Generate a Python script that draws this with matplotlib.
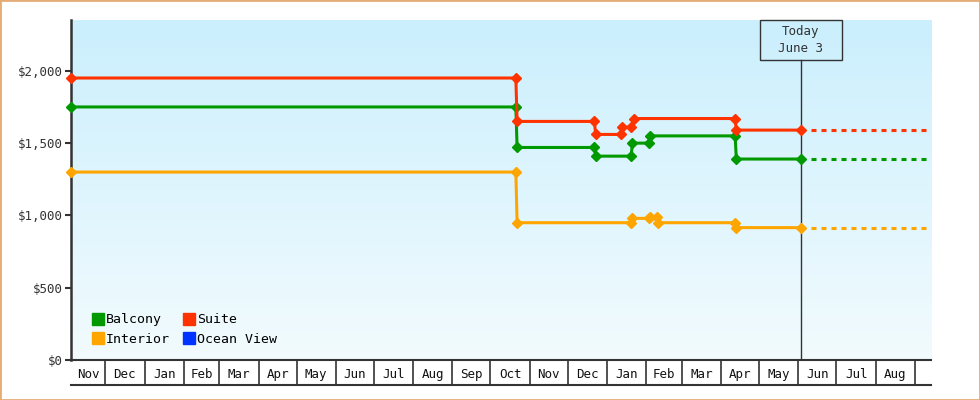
import matplotlib
matplotlib.use('Agg')
import matplotlib.pyplot as plt
import matplotlib.dates as mdates
import numpy as np
import pandas as pd
from matplotlib.lines import Line2D
from matplotlib.patches import Rectangle
from matplotlib.colors import LinearSegmentedColormap
from matplotlib.transforms import blended_transform_factory

plt.rcParams['font.family'] = ['DejaVu Sans Mono']
plt.rcParams['lines.scale_dashes'] = False

# price history, one point per observation
balcony_dates = ['2021-11-04', '2022-10-21', '2022-10-22', '2022-12-22', '2022-12-23',
                 '2023-01-20', '2023-01-21', '2023-02-03', '2023-02-04', '2023-04-12',
                 '2023-04-13', '2023-06-03']
balcony_prices = [1749, 1749, 1469, 1469, 1409, 1409, 1499, 1499, 1549, 1549, 1389, 1389]

suite_dates = ['2021-11-04', '2022-10-21', '2022-10-22', '2022-12-22', '2022-12-23',
               '2023-01-12', '2023-01-13', '2023-01-20', '2023-01-22', '2023-04-12',
               '2023-04-13', '2023-06-03']
suite_prices = [1949, 1949, 1649, 1649, 1559, 1559, 1609, 1609, 1669, 1669, 1589, 1589]

interior_dates = ['2021-11-04', '2022-10-21', '2022-10-22', '2023-01-20', '2023-01-21',
                  '2023-02-03', '2023-02-04', '2023-02-09', '2023-02-10', '2023-04-12',
                  '2023-04-13', '2023-06-03']
interior_prices = [1299, 1299, 949, 949, 979, 979, 989, 989, 949, 949, 915, 915]

series_names = ['Balcony', 'Suite', 'Interior', 'Ocean View']
series_colors = ['#009900', '#ff3300', '#ffa500', '#0033ff']

today = '2023-06-03'
today_label = 'Today\nJune 3'
x_start, x_end = '2021-11-04', '2023-09-13 14:00'
month_labels = ['Nov', 'Dec', 'Jan', 'Feb', 'Mar', 'Apr', 'May', 'Jun', 'Jul', 'Aug', 'Sep',
                'Oct', 'Nov', 'Dec', 'Jan', 'Feb', 'Mar', 'Apr', 'May', 'Jun', 'Jul', 'Aug']
y_ticks = [0, 500, 1000, 1500, 2000]
y_max = 2350


def num(d):
    return mdates.date2num(pd.to_datetime(d))


dark = '#333333'
x0, x1, t = num(x_start), num(x_end), num(today)

fig = plt.figure(figsize=(9.8, 4.0), dpi=100)
rect = [71 / 980, 40 / 400, 860 / 980, 340 / 400]

# gradient background behind the plot
bg = fig.add_axes(rect, zorder=0)
cmap = LinearSegmentedColormap.from_list('bg', ['#f2fbfe', '#cbeffd'])
bg.imshow(np.linspace(0, 1, 256).reshape(-1, 1), cmap=cmap, aspect='auto',
          origin='lower', extent=[0, 1, 0, 1])
bg.axis('off')

ax = fig.add_axes(rect, zorder=1)
ax.set_facecolor('none')

data = [(balcony_dates, balcony_prices), (suite_dates, suite_prices),
        (interior_dates, interior_prices)]
for (dates, prices), c in zip(data, series_colors):
    xs = [num(d) for d in dates]
    ax.plot(xs, prices, color=c, lw=2.2, marker='D', ms=5.5, clip_on=False, zorder=3)
    # projection after today
    ax.plot([t + 4, x1], [prices[-1], prices[-1]], color=c, lw=2.2,
            linestyle=(3.6, (3.6, 3.6)), clip_on=False, zorder=3)

ax.set_xlim(x0, x1)
ax.set_ylim(0, y_max)

# y axis
ax.set_yticks(y_ticks)
ax.set_yticklabels(['${:,}'.format(v) for v in y_ticks])
ax.tick_params(axis='y', direction='out', length=4.5, width=1.5, color=dark,
               labelsize=9, labelcolor=dark, pad=1.5)
for s in ['top', 'right']:
    ax.spines[s].set_visible(False)
ax.spines['left'].set_linewidth(1.8)
ax.spines['left'].set_color(dark)
ax.spines['bottom'].set_linewidth(1.5)
ax.spines['bottom'].set_color(dark)

# month cells under the axis
month_starts = pd.date_range('2021-11-01', '2023-10-01', freq='MS')
seps = [num(d) for d in month_starts if x0 < num(d) < x1]
centers = []
for a, b in zip(month_starts[:-1], month_starts[1:]):
    lo, hi = max(num(a), x0), min(num(b), x1)
    centers.append((lo + hi) / 2)
ax.set_xticks(seps)
ax.set_xticklabels([])
ax.set_xticks(centers[:len(month_labels)], minor=True)
ax.set_xticklabels(month_labels, minor=True)
ax.tick_params(axis='x', which='major', direction='out', length=18, width=1.2, color=dark)
ax.tick_params(axis='x', which='minor', length=0, pad=6, labelsize=9, labelcolor='#111111')
ax.plot([0, 1], [-25 / 340] * 2, transform=ax.transAxes, clip_on=False, color=dark, lw=1.5)

# today marker
bt = blended_transform_factory(ax.transData, ax.transAxes)
box_h = 40 / 340
ax.plot([t, t], [0, 1 - box_h], transform=bt, color=dark, lw=1, zorder=2)
ax.add_patch(Rectangle((t - 32, 1 - box_h), 64, box_h, transform=bt, fill=False,
                       ec=dark, lw=1, clip_on=False))
ax.text(t, 1 - box_h / 2, today_label, transform=bt, ha='center', va='center',
        fontsize=9, color=dark, linespacing=1.35, multialignment='center')

# legend
handles = [Line2D([], [], marker='s', ls='none', color=c, ms=8) for c in series_colors]
order = [0, 2, 1, 3]
ax.legend([handles[i] for i in order], [series_names[i] for i in order], ncol=2,
          loc='upper left', bbox_to_anchor=(0.025, 0.137), frameon=False, fontsize=9.5,
          handlelength=0.8, handletextpad=0.2, columnspacing=1.1, labelspacing=0.5,
          borderaxespad=0, borderpad=0)

fig.patches.append(Rectangle((0, 0), 1, 1, transform=fig.transFigure, fill=False,
                             ec='#e5ac74', lw=2))

fig.savefig('out.png', dpi=100)
